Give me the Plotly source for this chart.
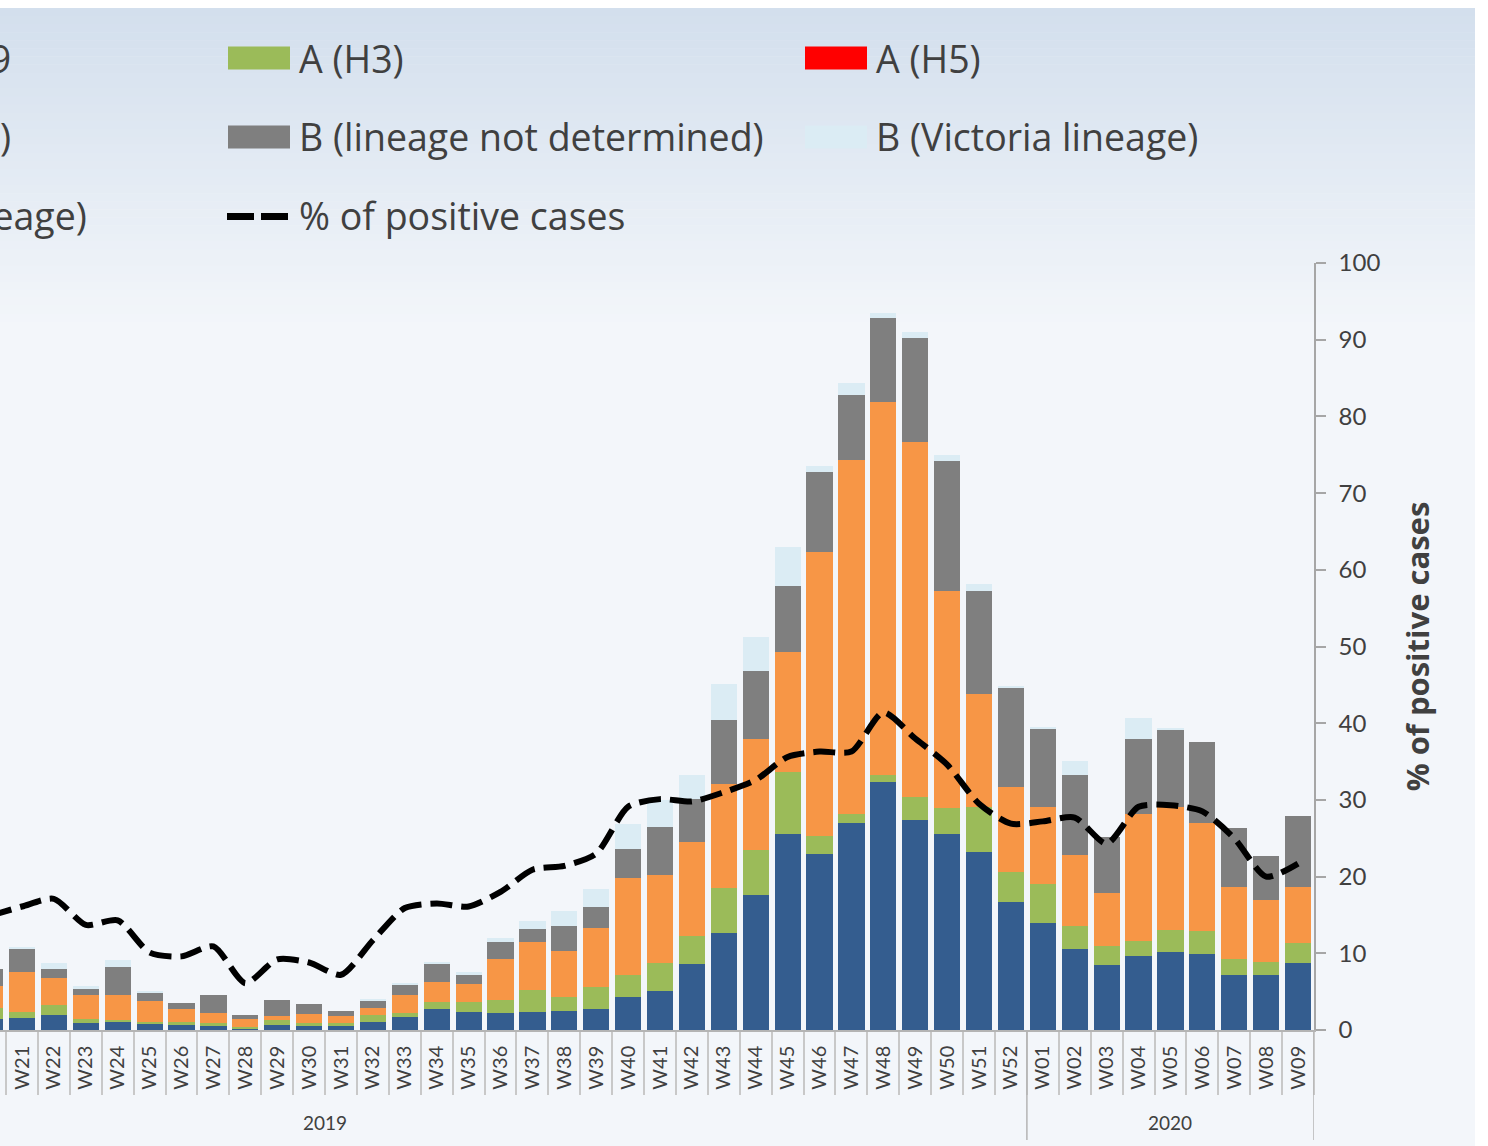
import plotly.graph_objects as go

# ---------------- data ----------------
weeks = ["W20", "W21", "W22", "W23", "W24", "W25", "W26", "W27", "W28", "W29",
         "W30", "W31", "W32", "W33", "W34", "W35", "W36", "W37", "W38", "W39",
         "W40", "W41", "W42", "W43", "W44", "W45", "W46", "W47", "W48", "W49",
         "W50", "W51", "W52",
         "W01", "W02", "W03", "W04", "W05", "W06", "W07", "W08", "W09"]

a_h1n1 = [1.5, 1.6, 2.0, 0.9, 1.1, 0.9, 0.6, 0.5, 0.2, 0.65,
          0.55, 0.5, 1.1, 1.7, 2.8, 2.4, 2.2, 2.4, 2.5, 2.8,
          4.3, 5.1, 8.6, 12.6, 17.6, 25.5, 23.0, 27.0, 32.3, 27.4,
          25.5, 23.2, 16.7,
          13.9, 10.5, 8.5, 9.6, 10.2, 9.9, 7.2, 7.2, 8.7]
a_h3 = [1.4, 0.7, 1.2, 0.5, 0.2, 0.2, 0.5, 0.4, 0.2, 0.6,
        0.4, 0.4, 0.9, 0.5, 0.8, 1.3, 1.7, 2.8, 1.8, 2.8,
        2.9, 3.7, 3.6, 5.9, 5.9, 8.2, 2.3, 1.2, 0.9, 3.0,
        3.5, 5.9, 3.9,
        5.2, 3.1, 2.4, 2.0, 2.8, 3.0, 2.0, 1.7, 2.7]
a_h5 = [0] * 42
a_nst = [2.9, 5.2, 3.6, 3.2, 3.3, 2.7, 1.7, 1.3, 1.1, 0.6,
         1.1, 0.9, 0.9, 2.3, 2.7, 2.3, 5.4, 6.3, 6.0, 7.7,
         12.6, 11.4, 12.3, 13.6, 14.4, 15.6, 37.0, 46.1, 48.7, 46.3,
         28.2, 14.7, 11.1,
         10.0, 9.2, 7.0, 16.6, 16.1, 14.1, 9.5, 8.0, 7.2]
b_nd = [2.2, 3.1, 1.2, 0.7, 3.6, 1.1, 0.7, 2.3, 0.5, 2.0,
        1.3, 0.65, 1.0, 1.4, 2.4, 1.3, 2.2, 1.7, 3.3, 2.7,
        3.8, 6.3, 5.6, 8.3, 8.9, 8.6, 10.5, 8.5, 10.9, 13.5,
        17.0, 13.5, 12.9,
        10.1, 10.4, 7.2, 9.7, 10.0, 10.5, 7.6, 5.8, 9.3]
b_vic = [0, 0.2, 0.8, 0.4, 0.9, 0.2, 0, 0, 0, 0,
         0, 0, 0.2, 0.2, 0.2, 0.2, 0.5, 1.0, 1.9, 2.4,
         3.2, 3.5, 3.1, 4.7, 4.4, 5.1, 0.7, 1.5, 0.7, 0.8,
         0.8, 0.9, 0.3,
         0.3, 1.9, 0, 2.8, 0.3, 0, 0, 0, 0]
b_yam = [0] * 42
pct_positive = [14.9, 16.1, 17.1, 13.7, 14.3, 10.1, 9.6, 10.9, 6.1, 9.2,
                8.8, 7.2, 11.7, 15.9, 16.5, 16.1, 18.0, 20.9, 21.4, 23.0,
                29.1, 30.1, 29.8, 31.0, 32.6, 35.6, 36.3, 36.3, 41.4, 38.0,
                34.6, 29.5, 26.9,
                27.2, 27.7, 24.3, 29.1, 29.3, 28.5, 25.0, 20.0, 21.7]

series_names = ["A(H1N1)pdm09", "A (H3)", "A (H5)", "A (not subtyped)",
                "B (lineage not determined)", "B (Victoria lineage)",
                "B (Yamagata lineage)"]
series_values = [a_h1n1, a_h3, a_h5, a_nst, b_nd, b_vic, b_yam]
series_colors = ["#345d8f", "#9bbb59", "#ff0000", "#f79646",
                 "#7f7f7f", "#dbecf4", "#c0a0d0"]
line_name = "% of positive cases"

# year groups: (label, first week number, last week number) of the full chart
year_groups = [("2019", 9, 52), ("2020", 1, 9)]

# ---------------- geometry helpers ----------------
W, H = 1488, 1146
ML, MR, MT, MB = 0, 174, 263, 116
PW = W - ML - MR
PH = H - MT - MB


def px_x(px):
    return (px - ML) / PW


def px_y(py):
    return (H - MB - py) / PH


TEXT = "#404040"
FONT = "Lato"
LFONT = "Open Sans"

fig = go.Figure()
for name, vals, col in zip(series_names, series_values, series_colors):
    fig.add_trace(go.Bar(x=weeks, y=vals, name=name, marker_color=col,
                         marker_line_width=0, showlegend=False))
fig.add_trace(go.Scatter(x=weeks, y=pct_positive, name=line_name, yaxis="y2",
                         mode="lines",
                         line=dict(color="black", width=6, dash="22px,9px",
                                   shape="spline", smoothing=0.7),
                         showlegend=False))

shapes = []
# background gradient
top_c = (211, 223, 237)
bot_c = (243, 246, 250)
g0, g1, n = 8, 330, 40
for i in range(n):
    t = i / (n - 1)
    c = tuple(round(top_c[k] + (bot_c[k] - top_c[k]) * t) for k in range(3))
    y0 = g0 + (g1 - g0) * i / n
    y1 = g0 + (g1 - g0) * (i + 1) / n + 0.5
    shapes.append(dict(type="rect", xref="paper", yref="paper", layer="below",
                       x0=px_x(0), x1=px_x(1475), y0=px_y(y1), y1=px_y(y0),
                       fillcolor="rgb(%d,%d,%d)" % c, line_width=0))
shapes.append(dict(type="rect", xref="paper", yref="paper", layer="below",
                   x0=px_x(0), x1=px_x(1475), y0=px_y(H), y1=px_y(g1),
                   fillcolor="rgb(%d,%d,%d)" % bot_c, line_width=0))

annotations = []
# year dividers and labels on the category axis
first_week_num = int(weeks[0][1:])
w2019_end = weeks.index("W52")
for label, wstart, wend in year_groups:
    if label == "2019":
        s = -(first_week_num - wstart)
        e = w2019_end
    else:
        s = w2019_end + wstart
        e = w2019_end + wend
    shapes.append(dict(type="line", xref="x", yref="paper", x0=e + 0.5, x1=e + 0.5,
                       y0=0, y1=px_y(1140), line=dict(color="#b4b4b4", width=1.5)))
    annotations.append(dict(xref="x", yref="paper", x=(s + e) / 2, y=px_y(1122),
                            yanchor="middle", xanchor="center",
                            text=label, showarrow=False,
                            font=dict(family=FONT, size=19, color=TEXT)))

# manual legend (3 columns x 3 rows, row-major)
legend_items = [(nm, col, "bar") for nm, col in zip(series_names, series_colors)]
legend_items.append((line_name, "black", "line"))
col_x = [228 - 575, 228, 805]
col1_text_end = [13, 13, 89]   # first column is cut by the picture edge
row_y = [58, 137, 215.5]
for k, (nm, col, kind) in enumerate(legend_items):
    r, c = divmod(k, 3)
    x0 = col_x[c]
    yc = row_y[r]
    if kind == "bar":
        shapes.append(dict(type="rect", xref="paper", yref="paper",
                           x0=px_x(x0), x1=px_x(x0 + 62),
                           y0=px_y(yc + 11.5), y1=px_y(yc - 11.5),
                           fillcolor=col, line_width=0))
    else:
        shapes.append(dict(type="line", xref="paper", yref="paper",
                           x0=px_x(x0 - 1), x1=px_x(x0 + 60),
                           y0=px_y(yc + 1), y1=px_y(yc + 1),
                           line=dict(color=col, width=7, dash="27px,7px")))
    if c == 0:
        tx, xa = col1_text_end[r], "right"
    else:
        tx, xa = x0 + 69, "left"
    annotations.append(dict(xref="paper", yref="paper", x=px_x(tx), y=px_y(yc),
                            xanchor=xa, yanchor="middle", text=nm,
                            showarrow=False,
                            font=dict(family=LFONT, size=37.5, color=TEXT)))

fig.update_layout(
    width=W, height=H,
    margin=dict(l=ML, r=MR, t=MT, b=MB, autoexpand=False, pad=0),
    paper_bgcolor="white",
    plot_bgcolor="rgba(0,0,0,0)",
    barmode="stack",
    bargap=0.18,
    showlegend=False,
    shapes=shapes,
    annotations=annotations,
    font=dict(family=FONT, color=TEXT),
    xaxis=dict(type="category", categoryorder="array", categoryarray=weeks,
               range=[0.31, len(weeks) - 0.5],
               showline=True, linecolor="#b4b4b4", linewidth=1.5,
               ticks="outside", tickson="boundaries", ticklen=63,
               tickcolor="#c8c8c8", tickwidth=1.5,
               tickangle=-90, ticklabelstandoff=6,
               tickfont=dict(family=FONT, size=20, color=TEXT),
               showgrid=False, zeroline=False),
    yaxis=dict(range=[0, 100], visible=False, showgrid=False),
    yaxis2=dict(range=[0, 100], overlaying="y", side="right", anchor="x",
                dtick=10, showline=True, linecolor="#a6a6a6", linewidth=1.5,
                ticks="outside", ticklen=10, tickcolor="#a6a6a6", tickwidth=1.5,
                ticklabelstandoff=8,
                tickfont=dict(family=FONT, size=24, color=TEXT),
                showgrid=False, zeroline=False,
                title=dict(text=line_name, standoff=28,
                           font=dict(family=LFONT, size=31, color=TEXT,
                                     weight="bold"))),
)

fig.write_html("out.html",
               config={"displayModeBar": False},
               post_script="document.body.style.margin='0px';"
                           "document.body.style.overflow='hidden';")
